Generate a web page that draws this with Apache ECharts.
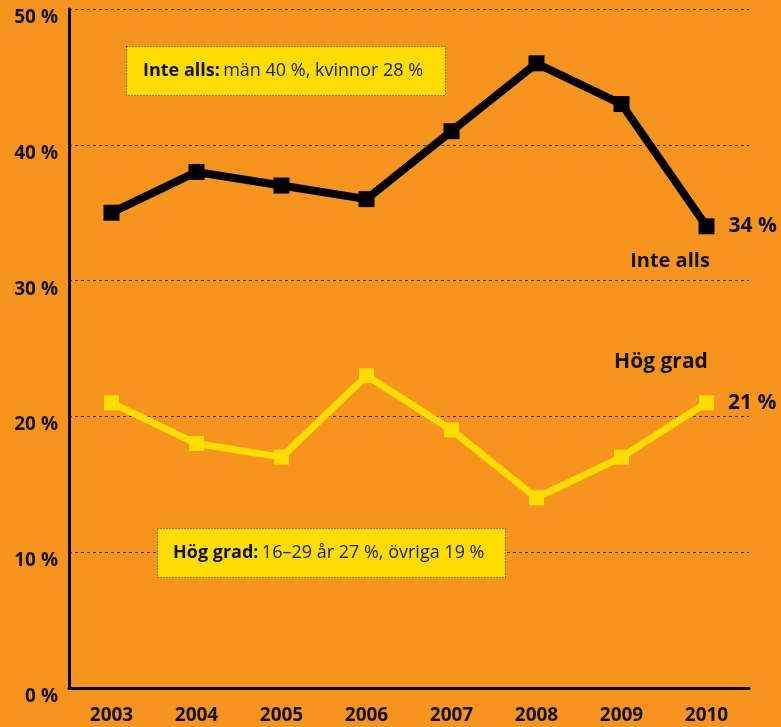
<!DOCTYPE html>
<html>
<head>
<meta charset="utf-8">
<script src="https://cdn.jsdelivr.net/npm/echarts@6/dist/echarts.min.js"></script>
<style>
  html, body { margin: 0; padding: 0; background: #F7941D; }
  #chart { width: 781px; height: 727px; }
</style>
</head>
<body>
<div id="chart"></div>
<script>
// år
var years = ['2003', '2004', '2005', '2006', '2007', '2008', '2009', '2010'];
// andel som inte alls ...
var inteAlls = [35, 38, 37, 36, 41, 46, 43, 34];
// andel i hög grad
var hogGrad = [21, 18, 17, 23, 19, 14, 17, 21];
// y-axelns etiketter
var yTicks = [0, 10, 20, 30, 40, 50];

var font = '"Open Sans", "Noto Sans", sans-serif';

//etikett bara på sista punkten
function lastLabel(value, idx, last) {
    return idx === last ? value + ' %' : '';
}

var chart = echarts.init(document.getElementById('chart'));

var option = {
    backgroundColor: '#F7941D',
    animation: false,
    grid: {
        left: 69,
        right: 32,
        top: 9,
        bottom: 39
    },
    xAxis: {
        type: 'category',
        data: years,
        boundaryGap: true,
        axisLine: { lineStyle: { color: '#000', width: 3 } },
        axisTick: { show: false },
        axisLabel: {
            color: '#111',
            fontFamily: font,
            fontWeight: 'bold',
            fontSize: 19,
            margin: 18
        }
    },
    yAxis: {
        type: 'value',
        min: yTicks[0],
        max: yTicks[yTicks.length - 1],
        interval: 10,
        axisLine: { show: true, lineStyle: { color: '#000', width: 3 } },
        axisTick: { show: false },
        splitLine: { lineStyle: { color: '#333', type: [3, 3], width: 1 } },
        axisLabel: {
            color: '#111',
            fontFamily: font,
            fontWeight: 'bold',
            fontSize: 19,
            margin: 11,
            verticalAlign: 'top',
            padding: [-1, 0, 0, 0],
            formatter: '{value} %'
        }
    },
    series: [
        {
            name: 'Inte alls',
            type: 'line',
            data: inteAlls,
            symbol: 'rect',
            symbolSize: 16,
            z: 3,
            lineStyle: { color: '#000', width: 8 },
            itemStyle: { color: '#000' },
            label: {
                show: true,
                position: 'right',
                distance: 14,
                color: '#111',
                fontFamily: font,
                fontWeight: 'bold',
                fontSize: 21,
                formatter: function (p) { return lastLabel(p.value, p.dataIndex, inteAlls.length - 1); }
            }
        },
        {
            name: 'Hög grad',
            type: 'line',
            data: hogGrad,
            symbol: 'rect',
            symbolSize: 15,
            z: 2,
            lineStyle: { color: '#FFDD00', width: 7 },
            itemStyle: { color: '#FFDD00' },
            label: {
                show: true,
                position: 'right',
                distance: 14,
                color: '#111',
                fontFamily: font,
                fontWeight: 'bold',
                fontSize: 21,
                formatter: function (p) { return lastLabel(p.value, p.dataIndex, hogGrad.length - 1); }
            }
        }
    ],
    graphic: [
        //ruta överst
        {
            type: 'rect',
            left: 126,
            top: 46,
            z: 100,
            shape: { width: 319, height: 49 },
            style: { fill: '#FFDD00', stroke: '#333', lineWidth: 1, lineDash: [1, 2] }
        },
        {
            type: 'text',
            x: 143,
            y: 71,
            z: 101,
            style: {
                text: '{b|Inte alls:} {n|män 40 %, kvinnor 28 %}',
                verticalAlign: 'middle',
                rich: {
                    b: { fontFamily: font, fontWeight: 'bold', fontSize: 18, fill: '#111' },
                    n: { fontFamily: font, fontSize: 18, fill: '#222' }
                }
            }
        },
        //ruta nederst
        {
            type: 'rect',
            left: 157,
            top: 528,
            z: 100,
            shape: { width: 348, height: 49 },
            style: { fill: '#FFDD00', stroke: '#333', lineWidth: 1, lineDash: [1, 2] }
        },
        {
            type: 'text',
            x: 173,
            y: 553,
            z: 101,
            style: {
                text: '{b|Hög grad:} {n|16–29 år 27 %, övriga 19 %}',
                verticalAlign: 'middle',
                rich: {
                    b: { fontFamily: font, fontWeight: 'bold', fontSize: 18, fill: '#111' },
                    n: { fontFamily: font, fontSize: 18, fill: '#222' }
                }
            }
        },
        //serienamn
        {
            type: 'text',
            x: 670,
            y: 261,
            z: 100,
            style: {
                text: 'Inte alls',
                fontFamily: font,
                fontWeight: 'bold',
                fontSize: 20,
                fill: '#111',
                align: 'center',
                verticalAlign: 'middle'
            }
        },
        {
            type: 'text',
            x: 661,
            y: 362,
            z: 100,
            style: {
                text: 'Hög grad',
                fontFamily: font,
                fontWeight: 'bold',
                fontSize: 21,
                fill: '#111',
                align: 'center',
                verticalAlign: 'middle'
            }
        }
    ]
};

chart.setOption(option);
</script>
</body>
</html>
